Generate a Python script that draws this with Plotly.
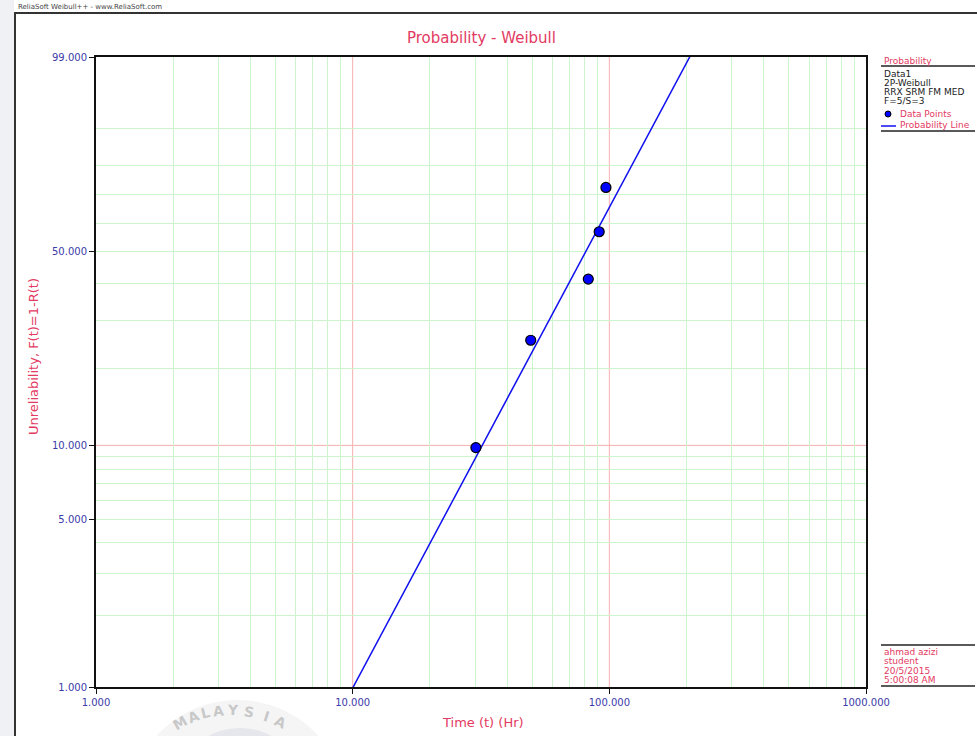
import math
import plotly.graph_objects as go

# Failure data (time to failure, hours) and median-rank unreliability (%)
time_hr = [30.2, 49.4, 82.8, 91.3, 97.0]
unrel_pct = [9.8, 25.4, 41.2, 56.9, 72.6]

# 2P-Weibull fit (RRX)
beta = 2.03
eta = 96.9
fit_time = [1.0, 10.0, 100.0, 300.0, 1000.0]

# Axis ticks
x_ticks = [1, 10, 100, 1000]
x_ticktext = ["1.000", "10.000", "100.000", "1000.000"]
y_ticks_pct = [1, 5, 10, 50, 99]
y_ticktext = ["1.000", "5.000", "10.000", "50.000", "99.000"]
x_grid_green = [2, 3, 4, 5, 6, 7, 8, 9, 20, 30, 40, 50, 60, 70, 80, 90,
                200, 300, 400, 500, 600, 700, 800, 900]
x_grid_red = [10, 100]
y_grid_green = [2, 3, 4, 5, 6, 7, 8, 9, 20, 30, 40, 50, 60, 70, 80, 90]
y_grid_red = [10]

side_info = ["Data1", "2P-Weibull", "RRX SRM FM MED", "F=5/S=3"]
user_info = ["ahmad azizi", "student", "20/5/2015", "5:00:08 AM"]


def wb(p):
    """Weibull probability scale: ln(-ln(1-F))."""
    return math.log(-math.log(1.0 - p / 100.0))


W, H = 977, 736
L, R, T, B = 96, 111, 57, 49
PW, PH = W - L - R, H - T - B


def px(x):
    return (x - L) / PW


def py(y):
    return (H - B - y) / PH


CRIMSON = "#e33a62"
NAVY = "#3b3ba8"
GREEN = "rgb(205,245,205)"
RED = "rgb(247,175,175)"
FONT = "DejaVu Sans"

y_range = [wb(1), wb(99)]
x_range = [0, 3]

fig = go.Figure()

fig.add_trace(go.Scatter(
    x=fit_time,
    y=[beta * math.log(t / eta) for t in fit_time],
    mode="lines", line=dict(color="#1010ee", width=1.5),
    hoverinfo="skip", showlegend=False,
))
fig.add_trace(go.Scatter(
    x=time_hr, y=[wb(p) for p in unrel_pct],
    mode="markers",
    marker=dict(color="#0000ff", size=10, line=dict(color="black", width=1.2)),
    showlegend=False,
))
# carrier for the grid axes
fig.add_trace(go.Scatter(x=[10], y=[wb(50)], xaxis="x2", yaxis="y2",
                         mode="markers", marker=dict(opacity=0),
                         hoverinfo="skip", showlegend=False))

axis_common = dict(showline=True, linecolor="#111", linewidth=2, mirror=True,
                   zeroline=False, showgrid=False, ticks="outside", ticklen=5,
                   tickcolor="#111", tickwidth=1,
                   tickfont=dict(family=FONT, size=10, color=NAVY))

fig.update_layout(
    width=W, height=H,
    margin=dict(l=L, r=R, t=T, b=B),
    paper_bgcolor="white", plot_bgcolor="white",
    font=dict(family=FONT),
    xaxis=dict(type="log", range=x_range, tickmode="array",
               tickvals=x_ticks, ticktext=x_ticktext, **axis_common),
    yaxis=dict(range=y_range, tickmode="array",
               tickvals=[wb(p) for p in y_ticks_pct], ticktext=y_ticktext,
               **axis_common),
    xaxis2=dict(type="log", range=x_range, overlaying="x", tickmode="array",
                tickvals=x_grid_green, showgrid=True, gridcolor=GREEN,
                gridwidth=1, showticklabels=False, ticks="", showline=False,
                zeroline=False),
    yaxis2=dict(range=y_range, overlaying="y", tickmode="array",
                tickvals=[wb(p) for p in y_grid_green], showgrid=True,
                gridcolor=GREEN, gridwidth=1, showticklabels=False, ticks="",
                showline=False, zeroline=False),
    showlegend=False,
)

shapes = []
for xv in x_grid_red:
    shapes.append(dict(type="line", xref="x", yref="paper", x0=xv, x1=xv,
                       y0=0, y1=1, layer="between",
                       line=dict(color=RED, width=1)))
for pv in y_grid_red:
    shapes.append(dict(type="line", xref="paper", yref="y", x0=0, x1=1,
                       y0=wb(pv), y1=wb(pv), layer="between",
                       line=dict(color=RED, width=1)))

# page frame: grey strip, left rule and header rule
shapes.append(dict(type="rect", xref="paper", yref="paper",
                   x0=px(0), x1=px(14), y0=py(H), y1=py(0),
                   fillcolor="#f0f1f4", line=dict(width=0), layer="below"))
shapes.append(dict(type="line", xref="paper", yref="paper",
                   x0=px(15), x1=px(15), y0=py(H), y1=py(12),
                   line=dict(color="#333", width=2)))
shapes.append(dict(type="line", xref="paper", yref="paper",
                   x0=px(15), x1=px(W), y0=py(13), y1=py(13),
                   line=dict(color="#333", width=2)))

# side panel rules
for yy in (66, 131, 645, 686):
    shapes.append(dict(type="line", xref="paper", yref="paper",
                       x0=px(881), x1=px(975), y0=py(yy), y1=py(yy),
                       line=dict(color="#222", width=1.5)))
# legend symbols
shapes.append(dict(type="circle", xref="paper", yref="paper",
                   x0=px(885), x1=px(891), y0=py(117), y1=py(111),
                   fillcolor="#0000ff", line=dict(color="black", width=1)))
shapes.append(dict(type="line", xref="paper", yref="paper",
                   x0=px(881), x1=px(896), y0=py(126), y1=py(126),
                   line=dict(color="#1010ee", width=1.5)))

# watermark disc
shapes.append(dict(type="circle", xref="paper", yref="paper",
                   x0=px(130), x1=px(345), y0=py(910), y1=py(700),
                   fillcolor="rgba(225,225,228,0.35)", line=dict(width=0),
                   layer="below"))
shapes.append(dict(type="circle", xref="paper", yref="paper",
                   x0=px(190), x1=px(290), y0=py(800), y1=py(728),
                   fillcolor="rgba(200,205,220,0.35)", line=dict(width=0),
                   layer="below"))

annotations = []


def label(x, y, text, color, size, xanchor="left", **kw):
    annotations.append(dict(x=px(x), y=py(y), xref="paper", yref="paper",
                            text=text, showarrow=False, xanchor=xanchor,
                            yanchor="middle",
                            font=dict(family=FONT, size=size, color=color),
                            **kw))


label(16, 7, "ReliaSoft Weibull++ - www.ReliaSoft.com", "#444", 7)
label(482, 38, "Probability - Weibull", CRIMSON, 15, xanchor="center")
label(483, 722, "Time (t) (Hr)", CRIMSON, 13, xanchor="center")
label(33, 357, "Unreliability, F(t)=1-R(t)", CRIMSON, 13, xanchor="center",
      textangle=-90)

label(882, 61, "Probability", CRIMSON, 9)
for i, s in enumerate(side_info):
    label(882, 74 + 9 * i, s, "#222", 9)
label(898, 114, "Data Points", CRIMSON, 9)
label(898, 125, "Probability Line", CRIMSON, 9)
for i, s in enumerate(user_info):
    label(882, 652 + 9.3 * i, s, CRIMSON, 9)

# watermark lettering
wm = [("M", 180, 723, -30), ("A", 193, 717, -22), ("L", 205, 713, -14),
      ("A", 218, 711, -6), ("Y", 233, 710, 2), ("S", 249, 712, 10),
      ("I", 266, 716, 18), ("A", 280, 722, 26)]
for ch, xx, yy, ang in wm:
    label(xx, yy, "<b>%s</b>" % ch, "rgba(170,170,170,0.6)", 14,
          xanchor="center", textangle=ang)

fig.update_layout(shapes=shapes, annotations=annotations)

fig.write_html("out.html")
